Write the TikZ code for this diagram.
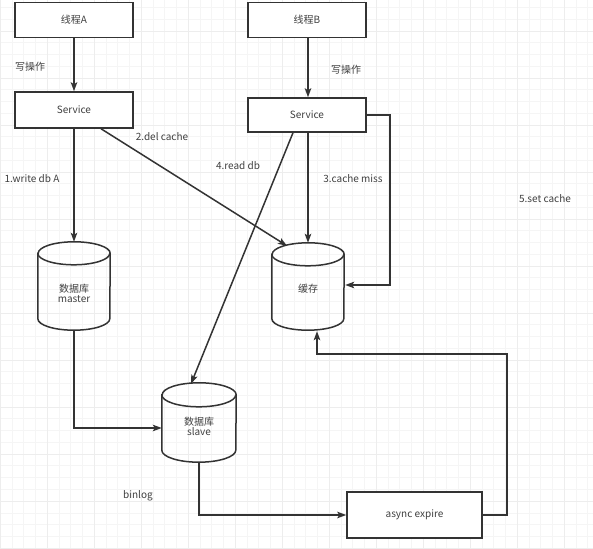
\documentclass[tikz,border=0pt]{standalone}
\usepackage{fontspec}
\setmainfont{Noto Sans CJK SC}
\usetikzlibrary{arrows.meta,calc}
\definecolor{ink}{HTML}{333333}
\definecolor{txt}{HTML}{404040}
\newcommand\dbcyl[2]{% #1 node name, #2 y radius
  \draw[line] ([yshift=-#2]#1.north west) -- ([yshift=#2]#1.south west)
    arc[start angle=180,end angle=360,x radius=0.5*\pgfkeysvalueof{/tikz/cylw},y radius=#2]
    -- ([yshift=-#2]#1.north east)
    arc[start angle=0,end angle=180,x radius=0.5*\pgfkeysvalueof{/tikz/cylw},y radius=#2] -- cycle;
  \draw[line] ([yshift=-#2]#1.north west)
    arc[start angle=180,end angle=360,x radius=0.5*\pgfkeysvalueof{/tikz/cylw},y radius=#2];}
\pgfkeys{/tikz/cylw/.initial=72pt}
\begin{document}
\begin{tikzpicture}[x=1pt,y=1pt,
  line/.style={draw=ink,line width=1.5pt},
  arr/.style={line,-{Stealth[length=9pt,width=6.5pt,inset=2pt]}},
  box/.style={draw=ink,line width=1.5pt,fill=white,minimum width=118pt,font=\fontsize{10}{12}\selectfont,text=txt},
  shell/.style={minimum width=72pt,inner sep=0pt},
  lbl/.style={font=\fontsize{10}{12}\selectfont,text=txt,inner sep=1pt},
]
\useasboundingbox (0,0) rectangle (593,548);
\fill[white] (0,0) rectangle (593,548);
\draw[black!4,line width=0.5pt] (0,0) grid[step=11.75] (593,548);
\draw[black!7,line width=0.6pt] (0,0) grid[step=47] (593,548);

% boxes
\node[box,minimum height=35pt] (tA) at (74,528) {线程A};
\node[box,minimum height=36pt] (sA) at (74,438) {Service};
\node[box,minimum height=35pt] (tB) at (307,528) {线程B};
\node[box,minimum height=34pt] (sB) at (307,433) {Service};
\node[box,minimum width=135pt,minimum height=46pt] (ae) at (414.5,33) {async expire};

% cylinders
\node[shell,minimum height=88pt] (master) at (74,262) {};
\node[shell,minimum height=87pt] (cache) at (308,261.5) {};
\node[shell,minimum width=74pt,minimum height=79pt] (slave) at (199,125.5) {};
\dbcyl{master}{11.5pt}
\dbcyl{cache}{11.5pt}
\pgfkeys{/tikz/cylw=74pt}
\dbcyl{slave}{12pt}
\node[lbl,align=center] (masterT) at (74,255) {数据库\\[-2pt]master};
\node[lbl] (cacheT) at (308,259) {缓存};
\node[lbl,align=center] (slaveT) at (199,122) {数据库\\[-2pt]slave};

% connectors
\draw[arr] (tA) -- (sA);
\draw[arr] (tB.south -| 308,0) -- (sB.north -| 308,0);
\draw[arr] (sA) -- (master);
\draw[arr] ([xshift=27pt]sA.south) -- ([xshift=-21pt,yshift=-3pt]cache.north);
\draw[arr] (sB.south -| 308,0) -- (cache.north);
\draw[arr] (sB.east) -- ++(23,0) |- ([xshift=1pt,yshift=1.5pt]cache.east);
\draw[arr] ([xshift=-14pt]sB.south) -- ([xshift=-8pt,yshift=-1pt]slave.north);
\draw[arr] (master.south) |- ([yshift=-5.5pt]slave.west);
\draw[arr] (slave.south) |- (ae.west);
\draw[arr] (ae.east) -- ++(24,0) |- ([xshift=9pt,yshift=-24pt]cache.south) -- ([xshift=9pt,yshift=-1pt]cache.south);

% labels
\node[lbl] (wA) at (30,481) {写操作};
\node[lbl] (wB) at (346,478) {写操作};
\node[lbl] (l1) at (32,369) {1.write db A};
\node[lbl] (l2) at (162,411) {2.del cache};
\node[lbl] (l3) at (353,369) {3.cache miss};
\node[lbl] (l4) at (238,382) {4.read db};
\node[lbl] (l5) at (545,349) {5.set cache};
\node[lbl] (lb) at (138,52) {binlog};
\end{tikzpicture}
\end{document}
